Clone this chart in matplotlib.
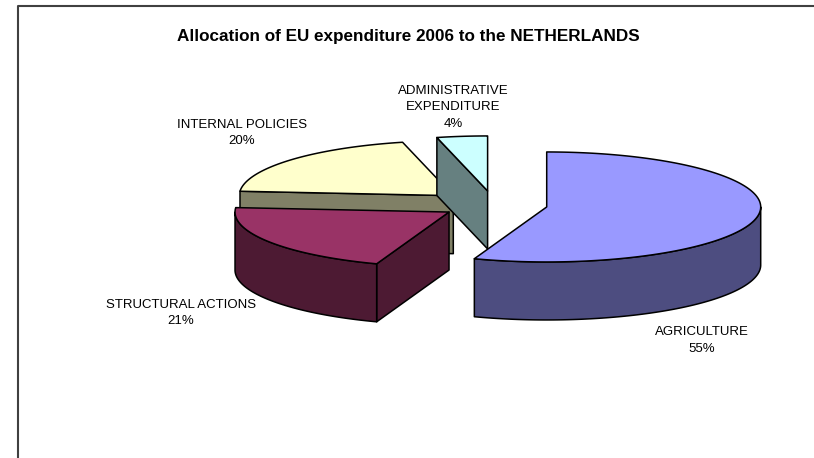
"""Exploded 3D pie of EU expenditure allocated to the Netherlands."""
import matplotlib
matplotlib.use("Agg")
import matplotlib.pyplot as plt
import numpy as np

plt.rcParams["font.family"] = ["Liberation Sans", "DejaVu Sans"]

TITLE = "Allocation of EU expenditure 2006 to the NETHERLANDS"
categories = ["AGRICULTURE", "STRUCTURAL ACTIONS", "INTERNAL POLICIES", "ADMINISTRATIVE\nEXPENDITURE"]
values = [55.49, 20.8, 19.9, 3.81]
pct_labels = ["55%", "21%", "20%", "4%"]

top_colors = ["#9999FF", "#993366", "#FFFFCC", "#CCFFFF"]
side_colors = ["#4D4D80", "#4D1A33", "#808066", "#668080"]

# pie geometry, pixels
CX, CY = 494, 204.6
RX, RY = 214, 55
DEPTH = 58
EXPLODE = 0.25
label_pos = [(702, 340.5), (181, 313), (242, 133), (453.5, 107.5)]
draw_order = [2, 3, 0, 1]


def arc(cx, cy, t0, t1):
    # angles clockwise from 12 o'clock, degrees
    t = np.radians(np.linspace(t0, t1, 200))
    return np.column_stack([cx + RX * np.sin(t), cy - RY * np.cos(t)])


def poly(ax, pts, color):
    ax.fill(pts[:, 0], pts[:, 1], facecolor=color, edgecolor="black", lw=1.1, joinstyle="round")


fig = plt.figure(figsize=(8.14, 4.58), dpi=100)
ax = fig.add_axes([0, 0, 1, 1])
ax.set_xlim(0, 814)
ax.set_ylim(458, 0)
ax.axis("off")

edges = np.concatenate([[0], np.cumsum(values) / np.sum(values) * 360])

for i in draw_order:
    t0, t1 = edges[i], edges[i + 1]
    mid = np.radians((t0 + t1) / 2)
    cx = CX + EXPLODE * RX * np.sin(mid)
    cy = CY - EXPLODE * RY * np.cos(mid)
    top = arc(cx, cy, t0, t1)
    apex = np.array([cx, cy])
    drop = np.array([0, DEPTH])

    # straight cut walls, only those turned towards the viewer
    for t, rim_pt, normal in [(t0, top[0], t0 - 90), (t1, top[-1], t1 + 90)]:
        if np.cos(np.radians(normal)) < -1e-6:
            poly(ax, np.array([apex, rim_pt, rim_pt + drop, apex + drop]), side_colors[i])

    # outer rim, front half of the ellipse only
    a, b = max(t0, 90), min(t1, 270)
    if b > a:
        rim = arc(cx, cy, a, b)
        poly(ax, np.vstack([rim, (rim + drop)[::-1]]), side_colors[i])

    poly(ax, np.vstack([apex, top]), top_colors[i])

for (x, y), cat, pct in zip(label_pos, categories, pct_labels):
    ax.text(x, y, f"{cat}\n{pct}", ha="center", va="center", fontsize=9.5, linespacing=1.45, color="black")

ax.text(408, 36, TITLE, ha="center", va="center", fontsize=12.3, fontweight="bold", color="black")

# chart frame, cropped at bottom and right
ax.plot([18, 18, 814], [458, 5.7, 5.7], color="#404040", lw=1.5)

fig.savefig("out.png", dpi=100)
